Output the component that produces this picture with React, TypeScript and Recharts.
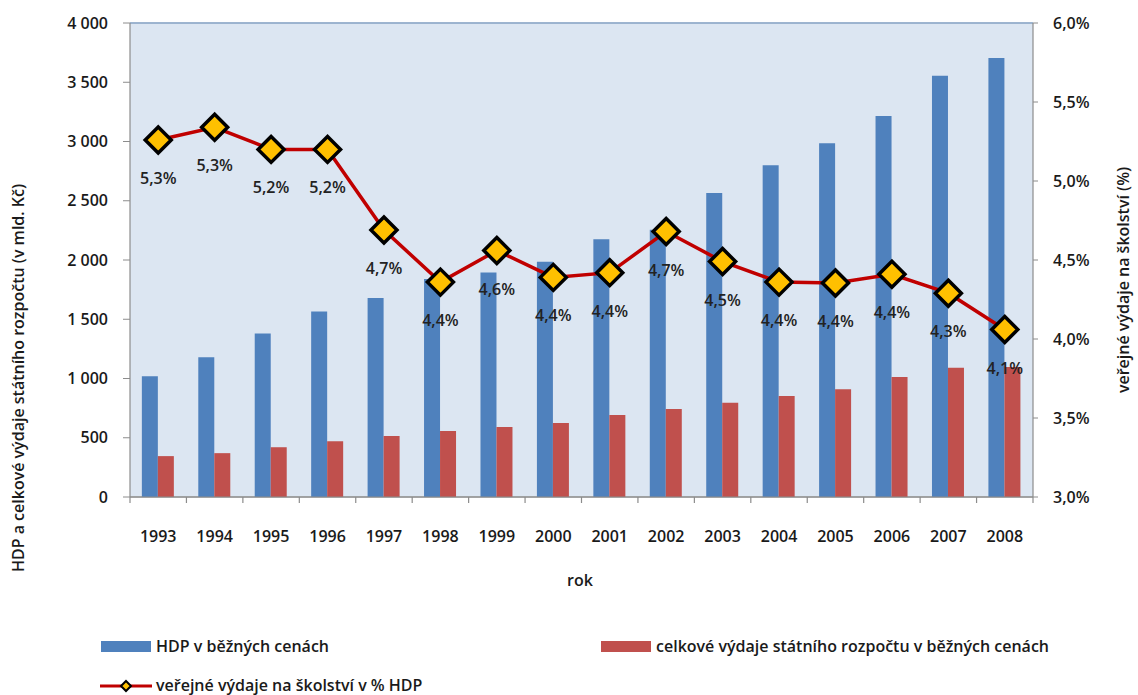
import {
  ComposedChart,
  Bar,
  Line,
  XAxis,
  YAxis,
  CartesianGrid,
  LabelList,
  ReferenceLine,
} from "recharts";

const years = [
  "1993", "1994", "1995", "1996", "1997", "1998", "1999", "2000",
  "2001", "2002", "2003", "2004", "2005", "2006", "2007", "2008",
];

// HDP v běžných cenách (mld. Kč)
const hdp = [
  1020, 1180, 1380, 1565, 1680, 1840, 1895, 1985,
  2175, 2255, 2565, 2800, 2985, 3215, 3555, 3705,
];

// celkové výdaje státního rozpočtu (mld. Kč)
const vydaje = [
  345, 370, 420, 470, 515, 557, 590, 625,
  692, 743, 795, 852, 910, 1013, 1090, 1097,
];

// veřejné výdaje na školství v % HDP
const skolstvi = [
  5.26, 5.34, 5.2, 5.2, 4.69, 4.36, 4.56, 4.39,
  4.42, 4.68, 4.49, 4.36, 4.355, 4.41, 4.29, 4.06,
];

const leftTicks = [0, 500, 1000, 1500, 2000, 2500, 3000, 3500, 4000];
const rightTicks = [3, 3.5, 4, 4.5, 5, 5.5, 6];

const data = years.map((year, i) => ({
  year,
  hdp: hdp[i],
  vydaje: vydaje[i],
  skolstvi: skolstvi[i],
}));

const FONT = "'Open Sans', 'DejaVu Sans', sans-serif";
const BLUE = "#4F81BD";
const RED = "#C0504D";
const LINE = "#C00000";
const GOLD = "#FFC000";

const PLOT_LEFT = 130;
const PLOT_RIGHT = 1033;
const BAND = (PLOT_RIGHT - PLOT_LEFT) / years.length;

const fmtThousands = (v: number) =>
  v >= 1000 ? `${Math.floor(v / 1000)} ${String(v % 1000).padStart(3, "0")}` : String(v);
const fmtPct = (v: number) => `${v.toFixed(1).replace(".", ",")}%`;

function YearTick(props: any) {
  const { x, y, payload, index } = props;
  const left = x - BAND / 2;
  return (
    <g>
      <line x1={left} y1={y} x2={left} y2={y + 6} stroke="#8c8c8c" strokeWidth={1.2} />
      {index === years.length - 1 && (
        <line x1={x + BAND / 2} y1={y} x2={x + BAND / 2} y2={y + 6} stroke="#8c8c8c" strokeWidth={1.2} />
      )}
      <text
        x={x}
        y={y + 45}
        textAnchor="middle"
        fontFamily={FONT}
        fontSize={16}
        fontWeight={600}
        fill="#1a1a1a"
      >
        {payload.value}
      </text>
    </g>
  );
}

function Diamond(props: any) {
  const { cx, cy } = props;
  if (cx == null || cy == null) return null;
  const r = 13;
  return (
    <path
      d={`M${cx},${cy - r} L${cx + r},${cy} L${cx},${cy + r} L${cx - r},${cy} Z`}
      fill={GOLD}
      stroke="#000"
      strokeWidth={3.5}
      strokeLinejoin="miter"
    />
  );
}

function PctLabel(props: any) {
  const { x, y, value } = props;
  return (
    <text
      x={x}
      y={y + 44}
      textAnchor="middle"
      fontFamily={FONT}
      fontSize={16}
      fontWeight={600}
      fill="#222"
    >
      {fmtPct(Number(value))}
    </text>
  );
}

const textStyle: React.CSSProperties = {
  position: "absolute",
  fontFamily: FONT,
  fontWeight: 600,
  fontSize: 16,
  lineHeight: "18px",
  color: "#1a1a1a",
  whiteSpace: "nowrap",
};

export default function App() {
  return (
    <div style={{ position: "relative", width: 1138, height: 695, background: "#fff", overflow: "hidden" }}>
      <style>{`body{margin:0}`}</style>
      <ComposedChart
        width={1138}
        height={695}
        data={data}
        margin={{ top: 23, right: 30, bottom: 158, left: 40 }}
        barCategoryGap="21%"
        barGap={0}
      >
        <CartesianGrid
          vertical={false}
          stroke="#a3a3a3"
          strokeWidth={1.5}
          fill="#DCE6F2"
          fillOpacity={1}
        />
        <XAxis
          dataKey="year"
          xAxisId="x"
          tickLine={false}
          tickSize={0}
          tickMargin={0}
          axisLine={{ stroke: "#8c8c8c", strokeWidth: 1.2 }}
          tick={<YearTick />}
          height={40}
          interval={0}
        />
        <YAxis
          yAxisId="left"
          domain={[0, 4000]}
          ticks={leftTicks}
          tickFormatter={fmtThousands}
          width={90}
          tickSize={7}
          tickMargin={15}
          tickLine={{ stroke: "#8c8c8c" }}
          axisLine={{ stroke: "#8c8c8c", strokeWidth: 1.2 }}
          tick={{ fontFamily: FONT, fontSize: 16, fontWeight: 600, fill: "#1a1a1a" }}
          interval={0}
        />
        <YAxis
          yAxisId="right"
          orientation="right"
          domain={[3, 6]}
          ticks={rightTicks}
          tickFormatter={fmtPct}
          width={75}
          tickSize={5}
          tickMargin={15}
          tickLine={{ stroke: "#8c8c8c" }}
          axisLine={{ stroke: "#8c8c8c", strokeWidth: 1.2 }}
          tick={{ fontFamily: FONT, fontSize: 16, fontWeight: 600, fill: "#1a1a1a", textAnchor: "start" }}
          interval={0}
        />
        <ReferenceLine yAxisId="left" xAxisId="x" y={4000} stroke="#95B3D7" strokeWidth={1.5} />
        <Bar
          dataKey="hdp"
          xAxisId="x"
          yAxisId="left"
          fill={BLUE}
          isAnimationActive={false}
        />
        <Bar
          dataKey="vydaje"
          xAxisId="x"
          yAxisId="left"
          fill={RED}
          isAnimationActive={false}
        />
        <Line
          dataKey="skolstvi"
          xAxisId="x"
          yAxisId="right"
          stroke={LINE}
          strokeWidth={3.5}
          dot={<Diamond />}
          activeDot={false}
          isAnimationActive={false}
        >
          <LabelList dataKey="skolstvi" content={<PctLabel />} />
        </Line>
      </ComposedChart>

      {/* axis titles */}
      <div
        style={{
          ...textStyle,
          left: 18,
          top: 378,
          transform: "translate(-50%, -50%) rotate(-90deg)",
        }}
      >
        HDP a celkové výdaje státního rozpočtu (v mld. Kč)
      </div>
      <div
        style={{
          ...textStyle,
          left: 1123,
          top: 280,
          transform: "translate(-50%, -50%) rotate(-90deg)",
        }}
      >
        veřejné výdaje na školství (%)
      </div>
      <div style={{ ...textStyle, left: 580, top: 580, transform: "translate(-50%, -50%)" }}>
        rok
      </div>

      {/* legend */}
      <div style={{ position: "absolute", left: 101, top: 641, width: 50, height: 11, background: BLUE }} />
      <div style={{ ...textStyle, left: 156, top: 646, transform: "translateY(-50%)" }}>
        HDP v běžných cenách
      </div>
      <div style={{ position: "absolute", left: 601, top: 641, width: 50, height: 11, background: RED }} />
      <div style={{ ...textStyle, left: 656, top: 646, transform: "translateY(-50%)" }}>
        celkové výdaje státního rozpočtu v běžných cenách
      </div>
      <svg style={{ position: "absolute", left: 100, top: 676 }} width={52} height={20}>
        <line x1={0} y1={10} x2={52} y2={10} stroke={LINE} strokeWidth={3} />
        <path d="M26,5 L31,10 L26,15 L21,10 Z" fill={GOLD} stroke="#000" strokeWidth={2} />
      </svg>
      <div style={{ ...textStyle, left: 156, top: 685, transform: "translateY(-50%)" }}>
        veřejné výdaje na školství v % HDP
      </div>
    </div>
  );
}
